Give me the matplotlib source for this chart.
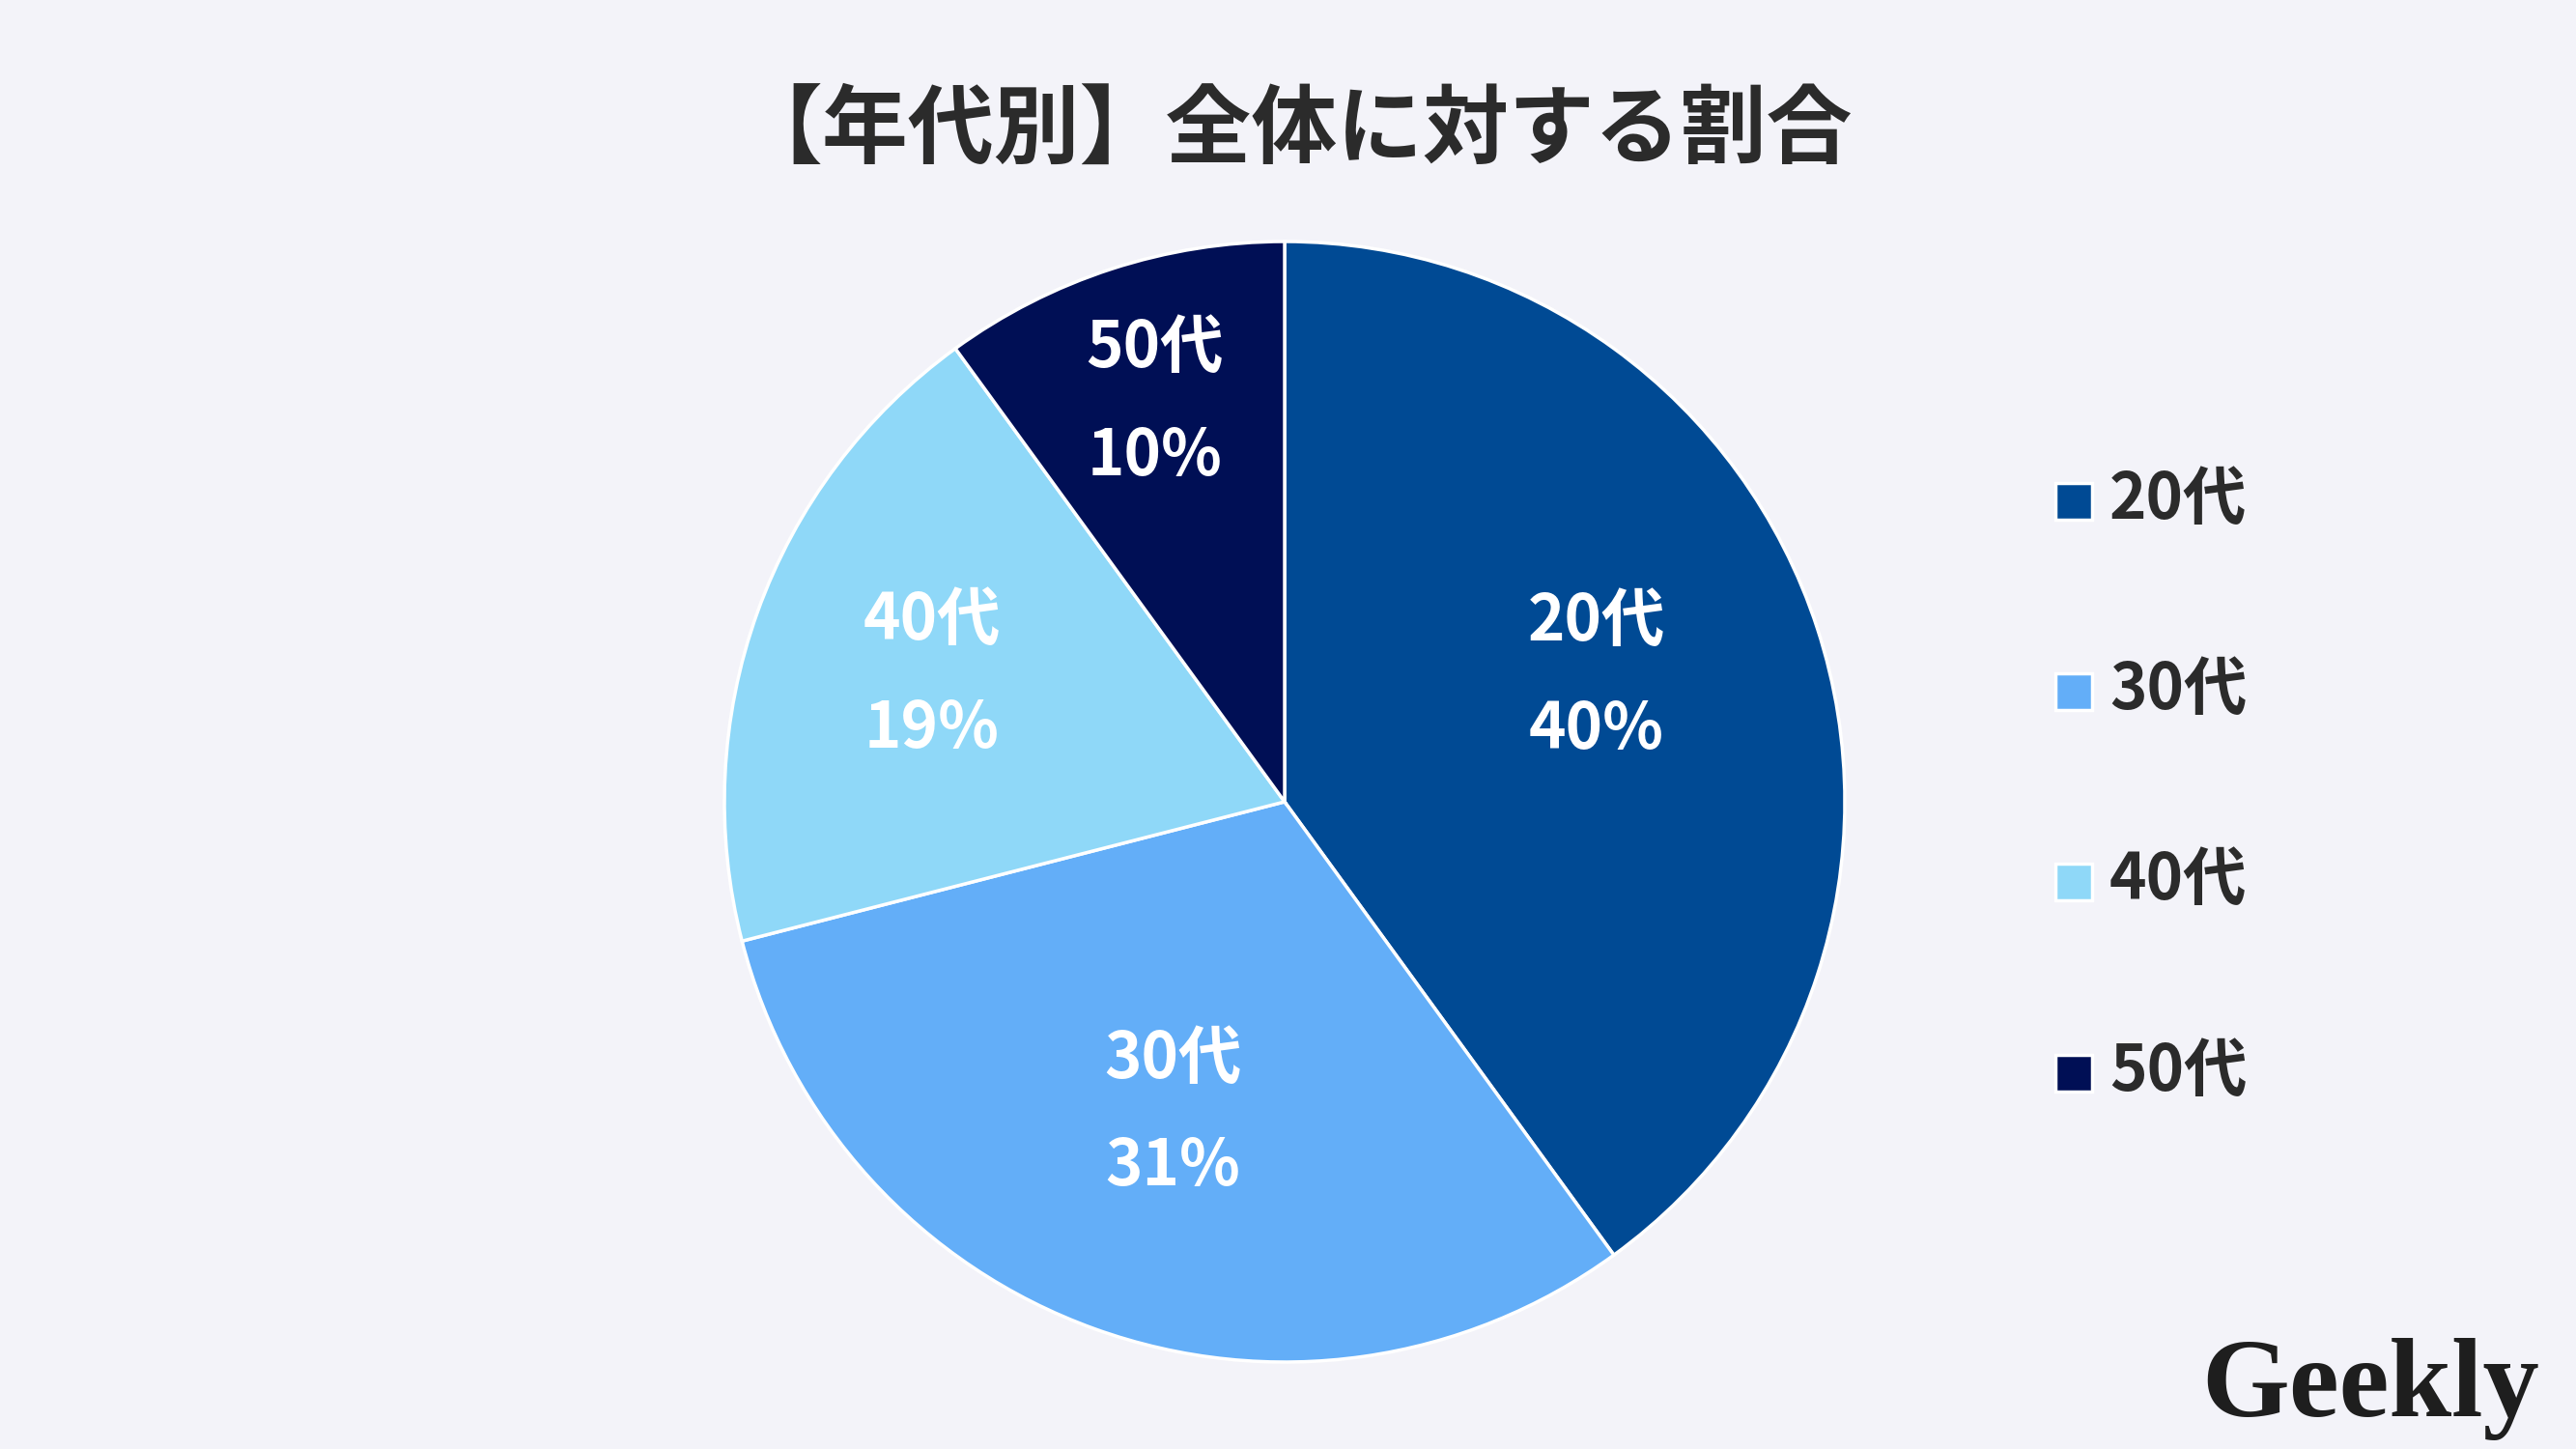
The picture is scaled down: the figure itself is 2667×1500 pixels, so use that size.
import matplotlib
matplotlib.use("Agg")
import numpy as np
import matplotlib.pyplot as plt
from matplotlib.patches import Rectangle

plt.rcParams['font.family'] = ['Noto Sans CJK JP', 'DejaVu Sans']

categories = ["20代", "30代", "40代", "50代"]
values = [40, 31, 19, 10]
colors = ["#004A94", "#63AEF8", "#8FD8F8", "#000F55"]
title = "【年代別】全体に対する割合"

W, H = 2667, 1500
fig = plt.figure(figsize=(W / 100, H / 100), dpi=100)
fig.patch.set_facecolor("#F3F3F9")

cx, cy, r = 1330, 830, 580
ax = fig.add_axes([(cx - r) / W, 1 - (cy + r) / H, 2 * r / W, 2 * r / H])
ax.set_facecolor("none")

labels = [f"{c}\n{v}%" for c, v in zip(categories, values)]
wedges, texts = ax.pie(values, colors=colors, startangle=90, counterclock=False,
                       labels=labels, labeldistance=0.6,
                       wedgeprops=dict(edgecolor="white", linewidth=2.5),
                       textprops=dict(color="white", fontsize=47, fontweight="bold",
                                      ha="center", va="center", linespacing=1.85))
# per-label radial distance and angular nudge (style)
label_dist = [0.60, 0.59, 0.67, 0.75]
label_nudge = [4, 0, 0, 0]
for w, t, d, n in zip(wedges, texts, label_dist, label_nudge):
    ang = np.deg2rad((w.theta1 + w.theta2) / 2 + n)
    t.set_position((d * np.cos(ang), d * np.sin(ang)))
    t.set_ha("center")
    t.set_va("center")

ax.set_xlim(-1, 1)
ax.set_ylim(-1, 1)
ax.set_aspect("equal")
ax.axis("off")

fig.text(1340 / W, 1 - 136 / H, title, ha="center", va="center",
         fontsize=64, fontweight="bold", color="#2B2B2B")

# legend
leg_y = [519, 716, 913, 1111]
sq = 38
for cat, col, y in zip(categories, colors, leg_y):
    fig.patches.append(Rectangle((2128 / W, 1 - (y + sq / 2) / H), sq / W, sq / H,
                                 transform=fig.transFigure, facecolor=col,
                                 edgecolor="white", linewidth=2.5))
    fig.text(2184 / W, 1 - (y - 2) / H, cat, ha="left", va="center",
             fontsize=47, fontweight="bold", color="#2B2B2B")

fig.text(2279 / W, 1 - 1466 / H, "Geekly", ha="left", va="baseline",
         fontsize=84, fontweight="bold", color="#1E1E1E",
         family=["Liberation Serif", "DejaVu Serif"])

fig.savefig("out.png", dpi=100, facecolor=fig.get_facecolor())
